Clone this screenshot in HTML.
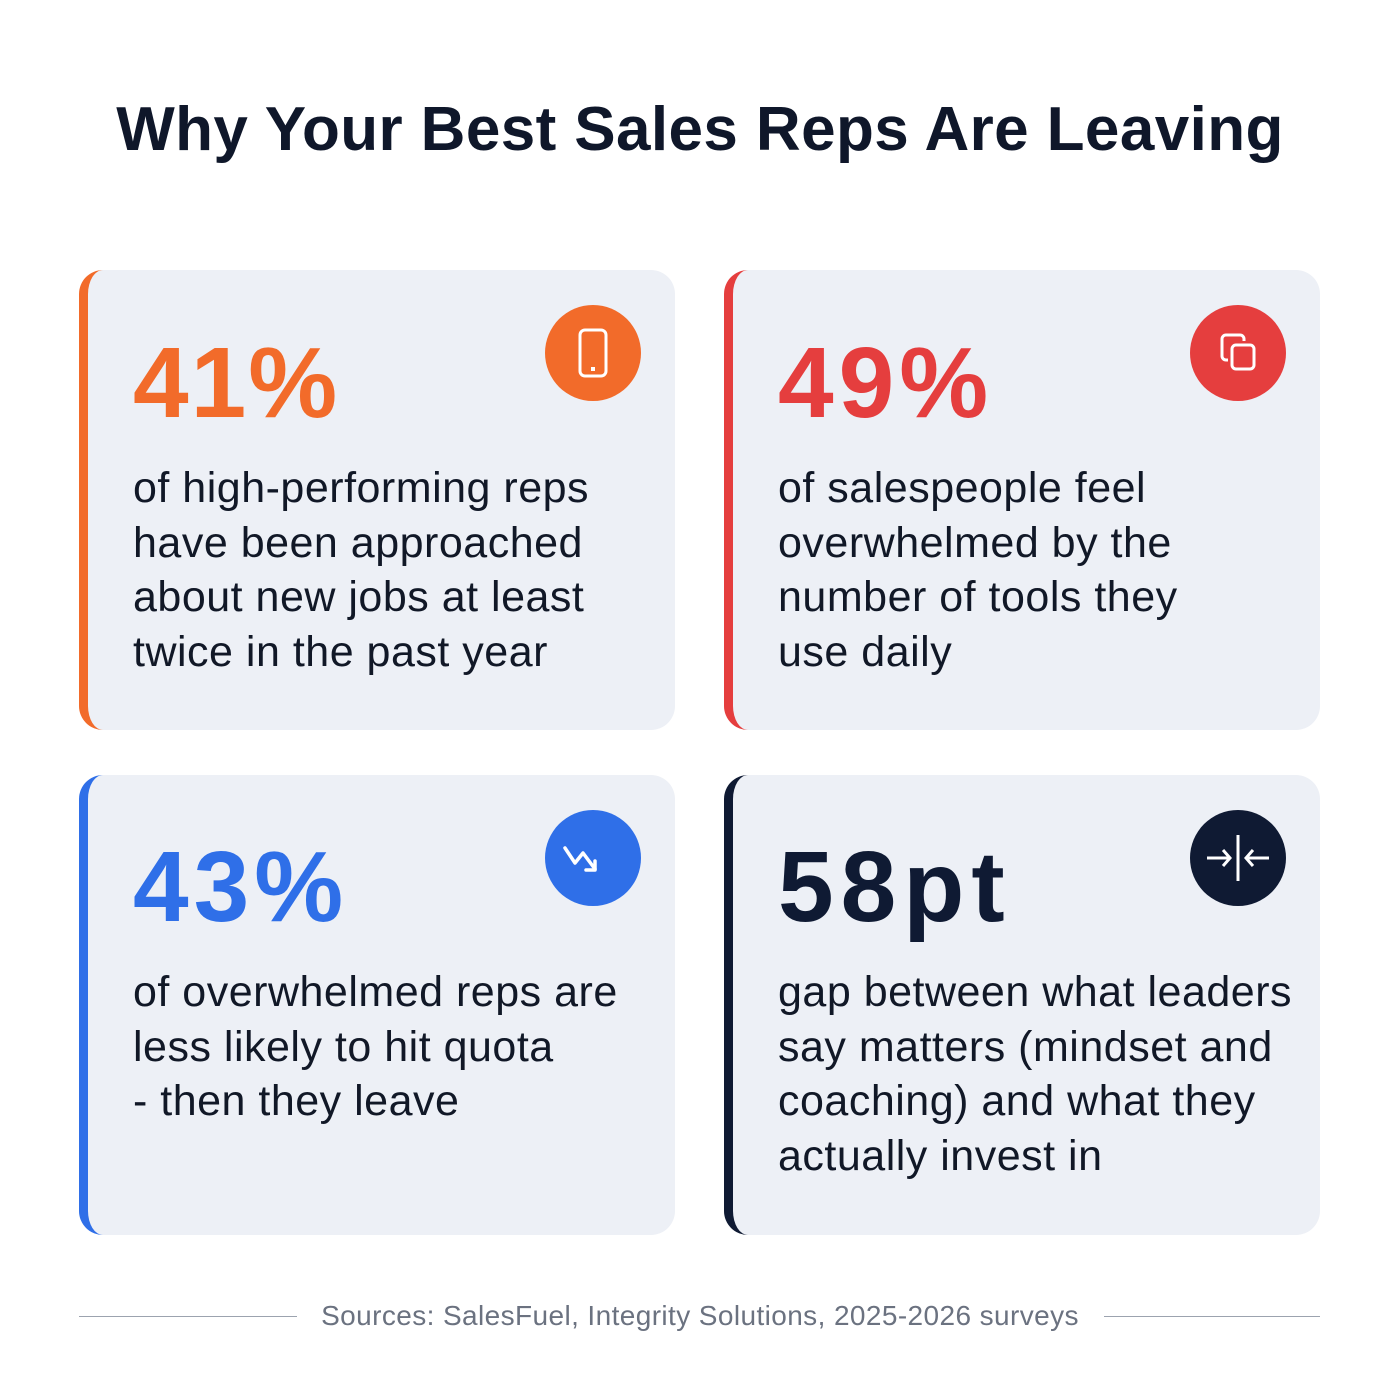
<!DOCTYPE html>
<html><head><meta charset="utf-8"><style>
body{margin:0;width:1400px;height:1400px;background:#fff;font-family:"Liberation Sans",sans-serif;position:relative;overflow:hidden}
h1{position:absolute;top:90px;left:0;width:1400px;text-align:center;margin:0;font-size:62px;line-height:80px;color:#0f172a;font-weight:700;letter-spacing:0.4px}
.card{position:absolute;width:596px;height:460px;background:#edf0f6;border-radius:24px;border-left:9px solid;box-sizing:border-box}
.num{position:absolute;left:45px;top:63px;font-size:100px;line-height:100px;font-weight:700;letter-spacing:2px}
.txt{position:absolute;left:45px;top:191px;font-size:43px;line-height:54.5px;color:#111827;width:560px;letter-spacing:0.5px}
.icon{position:absolute;left:457px;top:35px;width:96px;height:96px;border-radius:50%}
.icon svg{width:96px;height:96px}
.src{position:absolute;top:1298px;left:0;width:1400px;text-align:center;font-size:28px;color:#6b7280;line-height:36px;letter-spacing:0.4px}
.ln{position:absolute;top:1316px;height:1px;background:#9ca3af}
</style></head><body>
<h1>Why Your Best Sales Reps Are Leaving</h1>

<div class="card" style="left:79px;top:270px;border-color:#f26b2a">
<div class="num" style="color:#f26b2a">41%</div>
<div class="icon" style="background:#f26b2a"><svg viewBox="0 0 96 96"><rect x="35" y="25" width="26" height="46" rx="5" fill="none" stroke="#fff" stroke-width="3"/><rect x="46" y="62" width="4" height="4" fill="#fff"/></svg></div>
<div class="txt">of high-performing reps<br>have been approached<br>about new jobs at least<br>twice in the past year</div>
</div>

<div class="card" style="left:724px;top:270px;border-color:#e53e3e">
<div class="num" style="color:#e53e3e;letter-spacing:5px">49%</div>
<div class="icon" style="background:#e53e3e"><svg viewBox="0 0 96 96"><path d="M38 55 h-2 a4 4 0 0 1 -4 -4 v-17 a4 4 0 0 1 4 -4 h14 a4 4 0 0 1 4 4 v2" fill="none" stroke="#fff" stroke-width="3"/><rect x="42" y="40" width="22" height="24" rx="4" fill="none" stroke="#fff" stroke-width="3"/></svg></div>
<div class="txt">of salespeople feel<br>overwhelmed by the<br>number of tools they<br>use daily</div>
</div>

<div class="card" style="left:79px;top:775px;border-color:#2f6fe8">
<div class="num" style="color:#2f6fe8;top:62px;letter-spacing:5px">43%</div>
<div class="icon" style="background:#2f6fe8"><svg viewBox="0 0 96 96"><polyline points="20,38 30,53 38,43 50,59" fill="none" stroke="#fff" stroke-width="3.5" stroke-linejoin="round" stroke-linecap="round"/><polyline points="41,60 50,60 50,51" fill="none" stroke="#fff" stroke-width="3.5" stroke-linecap="round" stroke-linejoin="round"/></svg></div>
<div class="txt" style="top:190px">of overwhelmed reps are<br>less likely to hit quota<br>- then they leave</div>
</div>

<div class="card" style="left:724px;top:775px;border-color:#0f1a33">
<div class="num" style="color:#0f1a33;top:62px;letter-spacing:7px">58pt</div>
<div class="icon" style="background:#0f1a33"><svg viewBox="0 0 96 96"><line x1="48" y1="25" x2="48" y2="71" stroke="#fff" stroke-width="3"/><line x1="17" y1="48" x2="40" y2="48" stroke="#fff" stroke-width="3"/><polyline points="33,40 40,48 33,56" fill="none" stroke="#fff" stroke-width="3"/><line x1="56" y1="48" x2="79" y2="48" stroke="#fff" stroke-width="3"/><polyline points="63,40 56,48 63,56" fill="none" stroke="#fff" stroke-width="3"/></svg></div>
<div class="txt" style="top:190px">gap between what leaders<br>say matters (mindset and<br>coaching) and what they<br>actually invest in</div>
</div>

<div class="ln" style="left:79px;width:218px"></div>
<div class="ln" style="left:1104px;width:216px"></div>
<div class="src">Sources: SalesFuel, Integrity Solutions, 2025-2026 surveys</div>
</body></html>
